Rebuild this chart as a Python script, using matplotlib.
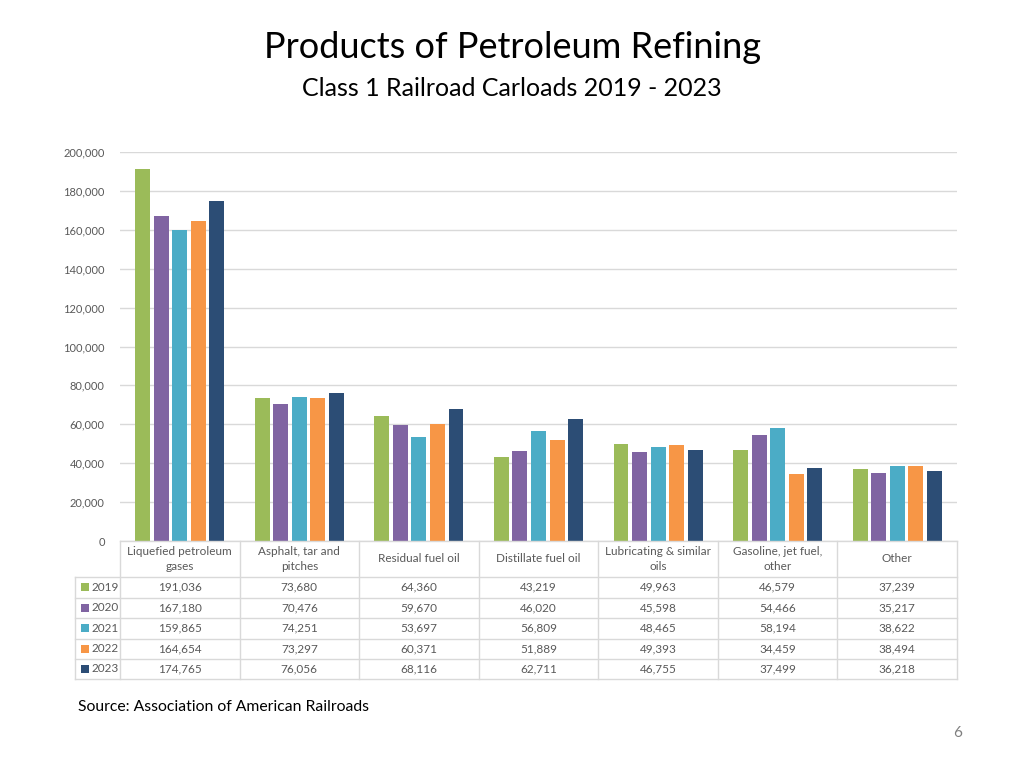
import matplotlib
matplotlib.use("Agg")
import matplotlib.pyplot as plt
from matplotlib.transforms import blended_transform_factory
from matplotlib.lines import Line2D
from matplotlib.patches import Rectangle

plt.rcParams['font.family'] = ['Lato', 'DejaVu Sans']

categories = ["Liquefied petroleum\ngases", "Asphalt, tar and\npitches", "Residual fuel oil",
              "Distillate fuel oil", "Lubricating & similar\noils", "Gasoline, jet fuel,\nother", "Other"]
years = ["2019", "2020", "2021", "2022", "2023"]
v2019 = [191036, 73680, 64360, 43219, 49963, 46579, 37239]
v2020 = [167180, 70476, 59670, 46020, 45598, 54466, 35217]
v2021 = [159865, 74251, 53697, 56809, 48465, 58194, 38622]
v2022 = [164654, 73297, 60371, 51889, 49393, 34459, 38494]
v2023 = [174765, 76056, 68116, 62711, 46755, 37499, 36218]
series = [v2019, v2020, v2021, v2022, v2023]
colors = ["#9BBB59", "#8064A2", "#4BACC6", "#F79646", "#2C4D75"]
yticks = [0, 20000, 40000, 60000, 80000, 100000, 120000, 140000, 160000, 180000, 200000]

W, H = 1024, 768
fig = plt.figure(figsize=(W / 100, H / 100), dpi=100)
ax = fig.add_axes([120 / W, 1 - 541 / H, (957 - 120) / W, (541 - 152) / H])

n = len(categories)
pitch = 0.155
width = 0.125
for i, (vals, c) in enumerate(zip(series, colors)):
    xs = [k + (i - 2) * pitch for k in range(n)]
    ax.bar(xs, vals, width=width, color=c, zorder=3)

ax.set_xlim(-0.5, n - 0.5)
ax.set_ylim(0, 200000)
ax.set_yticks(yticks)
ax.set_yticklabels([f"{t:,}" for t in yticks])
ax.tick_params(axis='y', length=0, labelsize=8, labelcolor="#595959", pad=11)
ax.tick_params(axis='x', length=0, labelbottom=False)
ax.grid(axis='y', color="#D9D9D9", linewidth=1, zorder=0)
for s in ax.spines.values():
    s.set_visible(False)

# Data table
tr = blended_transform_factory(ax.transData, fig.transFigure)
def fy(p):
    return 1 - p / H

lc = "#D9D9D9"
tc = "#595959"
left_legend = -0.5 - 45 / ((957 - 120) / n)
row_edges = [541, 577, 597.5, 618, 638.5, 658.5, 679]
fig.add_artist(Line2D([-0.5, n - 0.5], [fy(541), fy(541)], transform=tr, color=lc, lw=1))
for yp in row_edges[1:]:
    fig.add_artist(Line2D([left_legend, n - 0.5], [fy(yp), fy(yp)], transform=tr, color=lc, lw=1))
for k in range(n + 1):
    fig.add_artist(Line2D([k - 0.5, k - 0.5], [fy(541), fy(679)], transform=tr, color=lc, lw=1))
fig.add_artist(Line2D([left_legend, left_legend], [fy(577), fy(679)], transform=tr, color=lc, lw=1))

for k, cat in enumerate(categories):
    fig.text(k, fy(559), cat, transform=tr, ha='center', va='center', fontsize=8.5,
             color=tc, linespacing=1.35)
for r, (yr, vals, c) in enumerate(zip(years, series, colors)):
    yc = (row_edges[r + 1] + row_edges[r + 2]) / 2
    fig.add_artist(Rectangle((81 / W, fy(yc + 4)), 8 / W, 8 / H, transform=fig.transFigure,
                             color=c, lw=0))
    fig.text(91 / W, fy(yc), yr, ha='left', va='center', fontsize=8.5, color=tc)
    for k, v in enumerate(vals):
        fig.text(k, fy(yc), f"{v:,}", transform=tr, ha='center', va='center', fontsize=8.5, color=tc)

fig.text(512 / W, fy(48), "Products of Petroleum Refining", ha='center', va='center',
         fontsize=26, color="#000000")
fig.text(512 / W, fy(89), "Class 1 Railroad Carloads 2019 - 2023", ha='center', va='center',
         fontsize=18, color="#000000")
fig.text(78 / W, fy(707), "Source: Association of American Railroads", ha='left', va='center',
         fontsize=11.3, color="#000000")
fig.text(962 / W, fy(733), "6", ha='right', va='center', fontsize=11, color="#7F7F7F")

fig.savefig("out.png", dpi=100)
